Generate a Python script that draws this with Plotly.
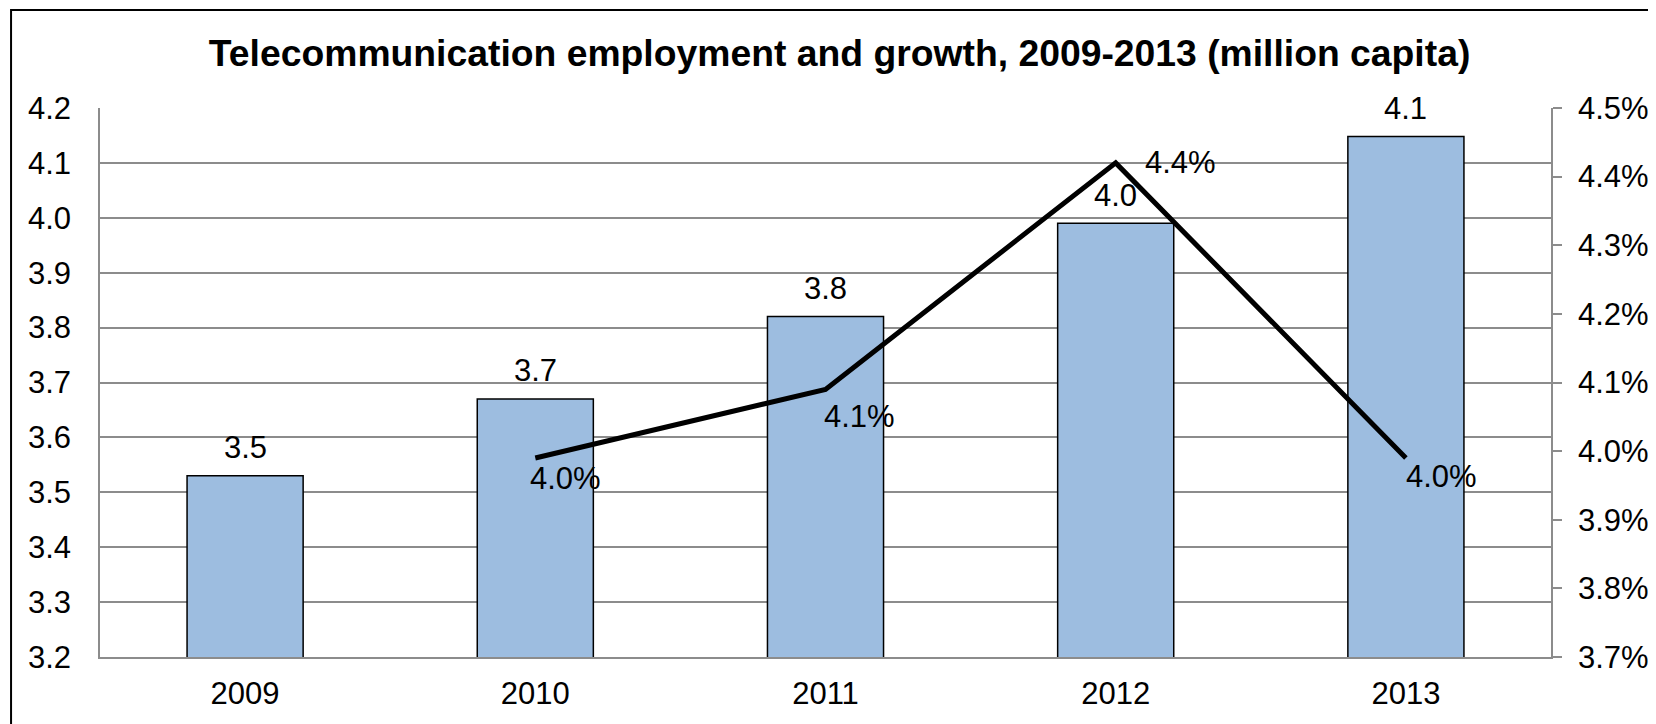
import plotly.graph_objects as go

years = ['2009', '2010', '2011', '2012', '2013']
employment = [3.53, 3.67, 3.82, 3.99, 4.148]   # million capita
growth_years = ['2010', '2011', '2012', '2013']
growth = [0.0399, 0.0409, 0.0442, 0.0399]      # growth rate

FONT = 'Liberation Sans, Arial, sans-serif'
GRID = '#8c8c8c'
FS = 31

fig = go.Figure()

fig.add_trace(go.Bar(
    x=years, y=employment,
    marker=dict(color='#9dbde0', line=dict(color='black', width=1.5)),
    width=0.4,
    hoverinfo='skip',
))

fig.add_trace(go.Scatter(
    x=growth_years, y=growth, yaxis='y2',
    mode='lines',
    line=dict(color='black', width=5),
    cliponaxis=False,
))

# value labels above the bars (category index on the x axis)
for i, v in enumerate(employment):
    fig.add_annotation(x=i, y=v, xref='x', yref='y', text=f'{v:.1f}',
                       showarrow=False, yshift=28,
                       font=dict(size=FS, color='black', family=FONT))

# growth labels next to the line points
label_offsets = [(-7, -21), (-4, -27), (27, 0), (-2, -19)]
for yr, g, (dx, dy) in zip(growth_years, growth, label_offsets):
    fig.add_annotation(x=years.index(yr), y=g, xref='x', yref='y2', text=f'{g:.1%}',
                       showarrow=False, xanchor='left', yanchor='middle',
                       xshift=dx, yshift=dy,
                       font=dict(size=FS, color='black', family=FONT))

# outer chart border (runs off the right and bottom edges)
fig.add_shape(type='rect', xref='paper', yref='paper',
              x0=-0.0613, x1=1.08, y0=-0.15, y1=1.1785,
              line=dict(color='black', width=2), layer='above')

fig.update_layout(
    width=1648, height=716,
    margin=dict(l=92, r=105, t=100, b=67),
    paper_bgcolor='white', plot_bgcolor='white',
    showlegend=False,
    font=dict(family=FONT, size=FS, color='black'),
    title=dict(text='<b>Telecommunication employment and growth, 2009-2013 (million capita)</b>',
               x=0.5046, xref='container', xanchor='center',
               y=0.937, yref='container', yanchor='middle',
               font=dict(size=37.3, family=FONT, color='black')),
    xaxis=dict(type='category', range=[-0.5, 4.5], showgrid=False, automargin=False,
               showline=True, linecolor=GRID, linewidth=1.5, ticks='',
               ticklabelstandoff=8, tickfont=dict(size=FS)),
    yaxis=dict(range=[3.2, 4.2], dtick=0.1, tick0=3.2, tickformat='.1f',
               showgrid=True, gridcolor=GRID, gridwidth=1.5, automargin=False,
               showline=True, linecolor=GRID, linewidth=1.5,
               ticks='', ticklabelstandoff=21, zeroline=False,
               tickfont=dict(size=FS)),
    yaxis2=dict(range=[0.037, 0.045], dtick=0.001, tick0=0.037, tickformat='.1%',
                overlaying='y', side='right', showgrid=False, zeroline=False,
                automargin=False,
                showline=True, linecolor=GRID, linewidth=1.5,
                ticks='outside', ticklen=9, tickcolor=GRID, tickwidth=1.5,
                ticklabelstandoff=10, tickfont=dict(size=FS)),
)

fig.write_html('out.html')
